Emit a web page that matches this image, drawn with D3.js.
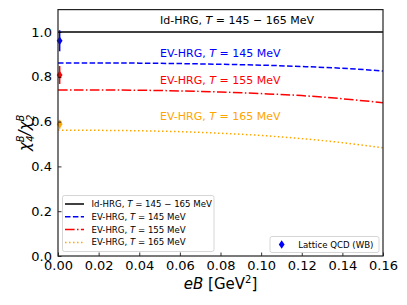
<!DOCTYPE html>
<html>
<head>
<meta charset="utf-8">
<script src="https://cdn.jsdelivr.net/npm/d3@7"></script>
<style>
  body { margin: 0; background: #fff; }
  svg { font-family: "DejaVu Sans", sans-serif; }
</style>
</head>
<body>
<svg id="chart" width="407" height="305"></svg>
<script>

// curve data
var eB = [0, 0.02, 0.04, 0.06, 0.08, 0.10, 0.12, 0.14, 0.16];
var idHRG = [1, 1, 1, 1, 1, 1, 1, 1, 1];
var ev145 = [0.862, 0.862, 0.861, 0.859, 0.856, 0.852, 0.846, 0.838, 0.826];
var ev155 = [0.741, 0.741, 0.740, 0.737, 0.732, 0.725, 0.716, 0.702, 0.684];
var ev165 = [0.562, 0.561, 0.559, 0.555, 0.548, 0.538, 0.524, 0.506, 0.483];

// lattice points
var latX = [0.0008, 0.0008, 0.0008];
var latY = [0.961, 0.808, 0.588];
var latErr = [0.047, 0.040, 0.020];
var latColors = ['blue', 'red', 'orange'];

var xTicks = [0, 0.02, 0.04, 0.06, 0.08, 0.10, 0.12, 0.14, 0.16];
var yTicks = [0, 0.2, 0.4, 0.6, 0.8, 1.0];

var svg = d3.select('#chart');
// plot box (window.top is taken, so prefixed names)
var pLeft = 58, pRight = 383, pTop = 9.6, pBottom = 256;

var x = d3.scaleLinear().domain([0, 0.16]).range([pLeft, pRight]);
var y = d3.scaleLinear().domain([0, 1.1]).range([pBottom, pTop]);

var series = [
  {vals: idHRG, color: 'black', dash: null, label: 'Id-HRG, ', tail: ' = 145 \u2212 165 MeV'},
  {vals: ev145, color: 'blue', dash: '5.5,2.4', label: 'EV-HRG, ', tail: ' = 145 MeV'},
  {vals: ev155, color: 'red', dash: '9.6,2.4,1.5,2.4', label: 'EV-HRG, ', tail: ' = 155 MeV'},
  {vals: ev165, color: 'orange', dash: '1.5,2.5', label: 'EV-HRG, ', tail: ' = 165 MeV'}
];

var line = d3.line()
  .x(function(d, i) { return x(eB[i]); })
  .y(function(d) { return y(d); })
  .curve(d3.curveMonotoneX);

svg.append('clipPath').attr('id', 'clip')
  .append('rect').attr('x', pLeft).attr('y', pTop)
  .attr('width', pRight - pLeft).attr('height', pBottom - pTop);

var plot = svg.append('g').attr('clip-path', 'url(#clip)');

series.forEach(function(s) {
  plot.append('path')
    .attr('d', line(s.vals))
    .attr('fill', 'none')
    .attr('stroke', s.color)
    .attr('stroke-width', 1.5)
    .attr('stroke-dasharray', s.dash);
});

// lattice points with error bars
latY.forEach(function(v, i) {
  svg.append('line')
    .attr('x1', x(latX[i])).attr('x2', x(latX[i]))
    .attr('y1', y(v - latErr[i])).attr('y2', y(v + latErr[i]))
    .attr('stroke', latColors[i]).attr('stroke-width', 1.6);
  svg.append('path')
    .attr('d', 'M0,-4.2L2.9,0L0,4.2L-2.9,0Z')
    .attr('transform', 'translate(' + x(latX[i]) + ',' + y(v) + ')')
    .attr('fill', latColors[i]);
});

// annotations in plot
var annY = [1.055, 0.905, 0.787, 0.626];
series.forEach(function(s, i) {
  var t = svg.append('text')
    .attr('x', x(0.0502)).attr('y', y(annY[i]))
    .attr('dy', '0.35em')
    .attr('font-size', 11)
    .attr('fill', s.color);
  t.append('tspan').text(s.label);
  t.append('tspan').attr('font-style', 'italic').text('T');
  t.append('tspan').text(s.tail);
});

// axes
var xAxis = d3.axisBottom(x).tickValues(xTicks).tickFormat(d3.format('.2f'))
  .tickSizeInner(-3.5).tickSizeOuter(0).tickPadding(6);
var yAxis = d3.axisLeft(y).tickValues(yTicks).tickFormat(d3.format('.1f'))
  .tickSizeInner(-3.5).tickSizeOuter(0).tickPadding(6);

var gx = svg.append('g').attr('transform', 'translate(0,' + pBottom + ')').call(xAxis);
var gy = svg.append('g').attr('transform', 'translate(' + pLeft + ',0)').call(yAxis);
[gx, gy].forEach(function(g) {
  g.select('.domain').remove();
  g.selectAll('text').attr('font-size', 13).attr('font-family', 'DejaVu Sans').attr('fill', 'black');
  g.selectAll('line').attr('stroke', 'black').attr('stroke-width', 0.8);
});
gx.selectAll('text').attr('dy', '0.85em').attr('y', 3);

svg.append('rect')
  .attr('x', pLeft).attr('y', pTop)
  .attr('width', pRight - pLeft).attr('height', pBottom - pTop)
  .attr('fill', 'none').attr('stroke', '#222').attr('stroke-width', 1.2);

// axis labels
var xl = svg.append('text').attr('x', (pLeft + pRight) / 2).attr('y', 289)
  .attr('text-anchor', 'middle').attr('font-size', 15);
xl.append('tspan').attr('font-style', 'italic').text('eB');
xl.append('tspan').text(' [GeV');
xl.append('tspan').attr('font-size', 10).attr('dy', -6).text('2');
xl.append('tspan').attr('dy', 6).text(']');

var yl = svg.append('text')
  .attr('transform', 'translate(30,' + ((pTop + pBottom) / 2) + ') rotate(-90)')
  .attr('text-anchor', 'middle').attr('font-size', 15).attr('font-style', 'italic');
yl.append('tspan').text('\u03c7');
yl.append('tspan').attr('font-size', 10).attr('dy', -6).text('B');
yl.append('tspan').attr('font-size', 10).attr('dx', -6.5).attr('dy', 10).text('4');
yl.append('tspan').attr('dy', -4).text('/\u03c7');
yl.append('tspan').attr('font-size', 10).attr('dy', -6).text('B');
yl.append('tspan').attr('font-size', 10).attr('dx', -6.5).attr('dy', 10).text('2');

// legend (lines)
var lg = svg.append('g');
lg.append('rect').attr('x', 62.5).attr('y', 195.5).attr('width', 151.5).attr('height', 56)
  .attr('rx', 2).attr('fill', 'white').attr('fill-opacity', 0.8)
  .attr('stroke', '#ccc').attr('stroke-width', 0.8);
var legY = [204, 216.7, 229.6, 242.4];
series.forEach(function(s, i) {
  lg.append('line').attr('x1', 65).attr('x2', 84).attr('y1', legY[i]).attr('y2', legY[i])
    .attr('stroke', s.color).attr('stroke-width', 1.5).attr('stroke-dasharray', s.dash);
  var t = lg.append('text').attr('x', 91.5).attr('y', legY[i]).attr('dy', '0.35em')
    .attr('font-size', 8.6).attr('fill', 'black');
  t.append('tspan').text(s.label);
  t.append('tspan').attr('font-style', 'italic').text('T');
  t.append('tspan').text(s.tail);
});

// legend (lattice)
var lg2 = svg.append('g');
lg2.append('rect').attr('x', 270).attr('y', 236.5).attr('width', 109).attr('height', 16)
  .attr('rx', 2).attr('fill', 'white').attr('fill-opacity', 0.8)
  .attr('stroke', '#ccc').attr('stroke-width', 0.8);
lg2.append('path').attr('d', 'M0,-4.2L2.9,0L0,4.2L-2.9,0Z')
  .attr('transform', 'translate(281.7,244.5)').attr('fill', 'blue');
lg2.append('text').attr('x', 298.3).attr('y', 244.5).attr('dy', '0.35em')
  .attr('font-size', 8.6).text('Lattice QCD (WB)');

</script>
</body>
</html>
